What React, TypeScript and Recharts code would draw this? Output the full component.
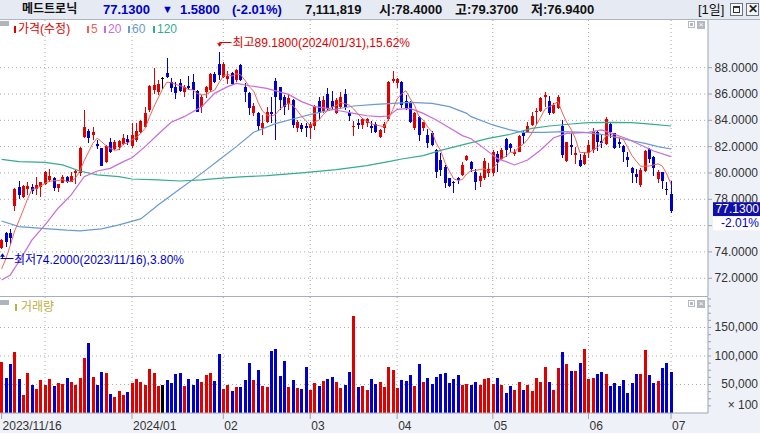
import React from 'react';
import { ComposedChart, Bar, Line, XAxis, YAxis, CartesianGrid, ReferenceDot, ReferenceLine } from 'recharts';

// ---------------- DATA ----------------
const opens = [74.28,75.42,75.42,77.49,78.96,78.2,78.79,78.96,78.79,78.91,79.14,79.47,79.65,78.84,79.22,79.67,79.34,79.97,79.97,82.76,83.19,82.89,82.23,81.87,80.81,82.33,81.82,82.0,82.18,82.56,82.05,82.51,83.09,83.52,84.78,86.3,86.13,87.19,87.57,86.94,86.56,86.81,86.18,86.61,86.89,86.23,85.04,86.18,86.3,87.49,88.28,87.3,87.14,87.57,87.05,88.2,86.56,86.1,84.53,84.53,83.44,83.85,84.6,86.99,86.51,85.8,85.22,85.54,83.44,83.65,83.57,83.39,83.57,85.47,84.71,85.97,85.47,84.53,85.04,85.97,84.58,83.52,83.77,83.65,83.77,83.57,83.72,82.76,83.44,84.1,87.01,86.81,86.94,85.47,85.42,83.44,84.28,83.39,82.89,83.01,81.75,80.99,80.48,79.59,79.34,79.59,79.85,80.99,80.81,80.1,79.39,79.65,80.03,79.97,81.44,81.06,82.56,82.2,81.44,81.62,83.06,83.06,83.65,84.66,84.73,85.8,85.47,84.53,84.91,83.57,80.91,82.13,81.37,80.99,80.68,81.49,81.75,83.09,82.43,82.18,83.72,83.01,82.33,82.05,81.24,80.35,79.92,79.09,80.15,81.82,81.24,79.52,80.05,78.78,78.4];
const highs = [75.0,75.54,75.75,78.84,79.39,79.09,79.34,79.14,79.72,79.34,80.15,80.3,79.72,79.14,79.85,79.77,80.1,80.23,82.0,84.78,83.34,83.52,82.51,81.92,82.13,82.63,82.51,82.51,82.94,82.89,83.77,83.77,84.03,85.04,86.68,88.0,87.06,87.27,88.76,87.19,86.94,87.14,86.68,87.39,87.49,86.3,85.92,86.63,87.57,87.65,89.18,88.4,87.75,87.65,87.9,88.28,86.81,86.18,85.29,84.66,84.41,85.01,85.8,87.24,86.56,85.92,85.97,85.62,84.03,83.82,83.77,83.85,85.16,85.8,85.87,86.43,86.23,85.67,86.13,86.35,84.78,83.95,84.08,84.15,84.2,83.95,83.85,83.34,83.85,86.99,87.75,87.24,87.0,85.92,85.48,84.66,84.35,83.9,83.34,83.19,81.82,81.49,80.61,79.65,79.4,79.67,80.86,81.37,80.91,80.3,79.97,81.11,80.73,81.75,81.67,81.87,82.63,82.3,81.82,82.89,83.19,83.9,84.66,84.91,85.8,86.18,85.87,85.29,85.92,84.03,82.38,83.01,81.95,81.42,81.57,82.51,83.39,83.19,82.94,84.28,83.9,83.06,82.68,82.13,81.62,80.48,80.3,80.35,81.75,81.87,81.29,80.23,80.1,79.34,79.37];
const lows = [74.2,74.41,74.53,77.14,78.0,78.13,78.33,78.41,78.33,78.2,79.09,79.34,78.66,78.53,79.22,79.22,79.34,79.14,79.8,82.68,82.3,82.51,81.8,80.5,80.73,81.5,81.75,81.75,82.15,82.13,81.92,82.38,83.01,83.39,84.66,85.97,85.92,86.38,87.19,86.18,85.62,86.18,85.75,86.3,85.62,84.6,84.58,85.67,86.18,86.81,87.06,87.2,86.73,86.68,86.94,86.99,85.37,84.41,84.35,83.19,82.89,83.77,83.77,82.51,84.78,84.41,84.78,83.39,83.14,83.14,82.76,82.58,83.27,84.03,84.53,84.78,84.78,84.46,84.86,84.78,83.95,82.84,83.32,83.34,83.52,83.06,83.01,82.68,83.01,83.95,86.81,86.43,84.91,84.78,83.77,83.27,82.46,83.19,81.87,82.08,79.59,79.8,78.84,78.96,78.46,79.14,79.8,80.91,80.1,78.71,78.96,79.47,79.72,79.8,80.05,80.99,81.24,81.62,81.32,81.57,82.18,83.01,83.59,83.65,84.66,85.04,84.41,84.48,84.86,81.16,80.86,81.37,80.68,80.48,80.61,81.11,81.49,81.67,81.87,82.13,82.63,81.82,81.87,80.86,80.48,79.27,79.22,78.96,80.1,80.73,79.77,79.22,78.76,78.33,76.94];
const closes = [74.91,74.78,75.09,78.76,78.33,79.04,79.01,78.66,79.09,79.29,80.05,79.77,78.84,79.14,79.72,79.29,79.77,80.15,81.92,83.52,82.63,83.09,82.08,80.56,82.05,81.57,82.33,82.43,82.68,82.33,82.89,83.19,83.95,84.53,86.63,86.68,86.73,87.19,87.27,86.43,86.05,86.25,86.56,86.43,86.3,84.66,85.8,86.56,87.49,86.94,87.44,88.3,87.39,86.73,87.8,87.06,86.18,84.96,85.09,83.57,83.77,84.66,84.45,85.8,85.54,85.04,85.67,83.65,83.85,83.34,83.39,83.7,85.09,84.53,85.54,84.91,85.04,85.54,85.8,85.04,84.35,83.57,83.65,84.08,84.08,83.39,83.09,83.27,83.72,86.94,87.11,87.14,85.16,84.91,83.9,84.58,82.89,83.85,82.25,82.13,80.1,80.23,79.22,79.01,79.22,79.47,80.61,81.32,80.3,79.29,79.77,80.91,80.3,81.62,80.86,81.75,81.75,81.87,81.62,82.81,82.84,83.57,84.33,84.71,85.72,85.92,84.53,85.16,85.8,81.37,82.33,82.0,81.54,80.56,81.37,82.13,83.19,82.33,82.3,84.1,83.09,81.87,82.18,81.62,80.99,79.97,79.72,80.23,81.67,81.04,80.41,80.1,79.39,78.71,77.13];
// volume in units of 100 shares
const volumes = [89500,61700,85600,107300,59400,31300,69900,48800,41800,57600,48800,59400,47000,52300,50500,61100,54000,48800,61100,96200,122500,62900,48800,71600,69900,33000,27700,38300,31300,36500,52300,59400,54000,48800,76900,69900,47000,48800,57600,52300,68100,69900,47000,59400,48800,59400,54000,66400,69900,55800,103200,41800,48800,38300,45300,45300,57600,87400,57600,75100,47000,45300,108400,111900,64600,90900,45300,57600,43500,41800,80400,40000,52300,47000,55800,59400,62900,54000,43500,48800,71600,169800,45300,47000,40000,59400,50500,54000,45300,80400,75100,43500,57600,55800,66400,47000,85600,54000,61100,50500,62900,68100,69900,52300,59400,66400,48800,50500,48800,54000,48800,59400,61100,50500,61100,48800,34700,47000,40000,54000,40000,48800,38300,61100,54000,80400,54000,40000,78600,106700,85600,73400,73400,87400,111900,59400,61100,68100,71600,68100,47000,52300,47000,57600,34700,52300,68100,68100,110200,66400,52300,55800,78600,87400,71100];

// moving averages (sparse points)
const ma5Lead = [72.7, 73.5, 74.5, 75.6];
const ma20Idx = [0,2,4,7,10,13,16,19,22,25,28,30,33,36,39,42,46,49,52,54,57,61,66,69,72,75,78,81,84,87,89,91,94,97,100,103,106,108,111,114,118,121,124,127,130,135,138,141,144,147,150,154];
const ma20Val = [71.87,72.25,73.27,74.91,76.05,77.32,78.33,79.72,80.15,80.35,80.86,81.16,82.0,82.94,83.85,84.28,85.04,86.05,86.56,86.81,86.63,86.43,85.97,85.42,85.04,84.91,84.71,84.53,84.35,84.28,84.33,84.84,84.91,84.53,84.03,83.44,82.84,82.6,81.87,81.11,80.61,80.99,81.75,82.68,83.01,83.09,83.27,82.94,82.58,82.13,81.67,81.24];
const ma60Idx = [0,4,10,15,18,23,27,32,36,41,46,50,54,58,63,67,72,77,81,86,89,94,99,103,107,108,113,117,120,125,129,134,138,143,148,151,154];
const ma60Val = [76.35,75.92,75.77,75.65,75.6,75.75,76.05,76.51,77.57,78.78,79.97,80.99,82.0,83.09,83.75,84.1,84.53,84.86,85.09,85.22,85.27,85.37,85.29,85.04,84.53,84.28,83.65,83.27,83.09,83.09,83.14,83.09,82.94,82.58,82.25,82.0,81.82];
const ma120Idx = [0,4,10,14,18,22,27,30,36,41,46,50,55,61,69,77,84,89,92,97,101,106,109,112,117,122,126,131,135,140,145,150,154];
const ma120Val = [81.04,80.86,80.8,80.61,80.15,79.85,79.72,79.54,79.47,79.39,79.47,79.59,79.7,79.8,80.0,80.25,80.56,80.86,81.06,81.32,81.72,82.13,82.38,82.63,82.94,83.39,83.57,83.72,83.82,83.85,83.82,83.7,83.57];

const xTickIdx = [0, 30, 51, 71, 91, 113, 135, 154];
const xTickLabels = ['2023/11/16', '2024/01', '02', '03', '04', '05', '06', '07'];
const gridIdx = [10, 30, 51, 71, 91, 113, 135, 154];
const priceTicks = [72, 74, 76, 78, 80, 82, 84, 86, 88];
const volLabelTicks = [50000, 100000, 150000];
const volMinorTicks = [12500,25000,37500,50000,62500,75000,87500,100000,112500,125000,137500,150000,162500,175000,187500,200000];

const maxPoint = { i: 50, v: 89.18, text: '최고89.1800(2024/01/31),15.62%' };
const minPoint = { i: 0, v: 74.2, text: '최저74.2000(2023/11/16),3.80%' };
const last = { price: 77.13, pct: '-2.01%' };

// ---------------- STYLE ----------------
const FF = '"Liberation Sans", "Noto Sans CJK KR", Arial, sans-serif';
const RED = '#E00000';
const BLUE = '#0000CD';
const DOJI = '#000000';
const C_MA5 = '#EE6358';
const C_MA20 = '#C86CD8';
const C_MA60 = '#6A9AD0';
const C_MA120 = '#34AC8E';
const GRID = '#A8A8A8';
const PANEL_BG = '#EEF1F7';
const BORDER = '#9CA3B0';
const X_DOMAIN: [number, number] = [-0.368, 162.5];
const P_DOMAIN: [number, number] = [70.65, 91.625];

const sparse = (idx: number[], val: number[]) => {
  const m: Record<number, number> = {};
  idx.forEach((k, j) => { m[k] = val[j]; });
  return m;
};
const ma20Map = sparse(ma20Idx, ma20Val);
const ma60Map = sparse(ma60Idx, ma60Val);
const ma120Map = sparse(ma120Idx, ma120Val);

const data = opens.map((o, i) => {
  let ma5: number;
  if (i < 4) ma5 = ma5Lead[i];
  else ma5 = (closes[i] + closes[i - 1] + closes[i - 2] + closes[i - 3] + closes[i - 4]) / 5;
  return {
    i,
    o,
    h: highs[i],
    l: lows[i],
    c: closes[i],
    range: [lows[i], highs[i]],
    vol: volumes[i],
    ma5,
    ma20: ma20Map[i] ?? null,
    ma60: ma60Map[i] ?? null,
    ma120: ma120Map[i] ?? null,
  };
});

const candleColor = (o: number, c: number) => (c > o ? RED : c < o ? BLUE : DOJI);

const CandleShape = (props: any) => {
  const { x, y, width, height, payload } = props;
  if (x == null || y == null || !payload) return null;
  const top = Math.min(y, y + height);
  const bot = Math.max(y, y + height);
  const span = payload.h - payload.l;
  const k = span > 0 ? (bot - top) / span : 0;
  const yO = top + (payload.h - payload.o) * k;
  const yC = top + (payload.h - payload.c) * k;
  const col = candleColor(payload.o, payload.c);
  const cx = Math.round(x + width / 2);
  const bTop = Math.min(yO, yC);
  const bH = Math.max(1, Math.abs(yO - yC));
  return (
    <g shapeRendering="crispEdges">
      <rect x={cx} y={top} width={1} height={Math.max(1, bot - top)} fill={col} />
      <rect x={cx - 1} y={bTop} width={3} height={bH} fill={col} />
    </g>
  );
};

const VolShape = (props: any) => {
  const { x, y, width, height, payload } = props;
  if (x == null || y == null || !payload) return null;
  const cx = Math.round(x + width / 2);
  const top = Math.min(y, y + height);
  return <rect x={cx - 1} y={top} width={3} height={Math.abs(height)} fill={candleColor(payload.o, payload.c)} shapeRendering="crispEdges" />;
};

const PriceTick = (props: any) => {
  const { x, y, payload } = props;
  return (
    <text x={x + 42} y={y} dy={4} textAnchor="end" fontSize={12} fill="#333" fontFamily={FF}>
      {Number(payload.value).toFixed(4)}
    </text>
  );
};

const VolTick = (props: any) => {
  const { x, y, payload } = props;
  if (!volLabelTicks.includes(payload.value)) return <g />;
  return (
    <text x={x + 42} y={y} dy={4} textAnchor="end" fontSize={12} fill="#333" fontFamily={FF}>
      {Number(payload.value).toLocaleString('en-US')}
    </text>
  );
};

const DateTick = (props: any) => {
  const { x, y, payload } = props;
  const j = xTickIdx.indexOf(payload.value);
  return (
    <text x={x + 1} y={y} dy={9} textAnchor="start" fontSize={12} fill="#333" fontFamily={FF}>
      {j >= 0 ? xTickLabels[j] : ''}
    </text>
  );
};

const MaxMark = (props: any) => {
  const vb = props.viewBox || {};
  const cx = (vb.x ?? 0) + (vb.width ?? 0) / 2;
  const cy = (vb.y ?? 0) + (vb.height ?? 0) / 2;
  const px = Math.round(cx) + 0.5;
  const ly = Math.round(cy - 10) + 0.5;
  return (
    <g>
      <line x1={px} y1={ly} x2={px + 12} y2={ly} stroke={RED} strokeWidth={1} />
      <line x1={px} y1={ly} x2={px} y2={cy - 7} stroke={RED} strokeWidth={1} />
      <path d={`M${px - 2.5},${cy - 9} L${px + 2.5},${cy - 9} L${px},${cy - 5.5} Z`} fill={RED} />
      <text x={px + 13} y={cy - 10} dy={4.5} fontSize={12} fill={RED} fontFamily={FF}>{maxPoint.text}</text>
    </g>
  );
};

const MinMark = (props: any) => {
  const vb = props.viewBox || {};
  const cx = (vb.x ?? 0) + (vb.width ?? 0) / 2;
  const cy = (vb.y ?? 0) + (vb.height ?? 0) / 2;
  const px = Math.round(cx) + 0.5;
  const ly = Math.round(cy + 9) + 0.5;
  return (
    <g>
      <line x1={px - 2} y1={ly} x2={px + 11} y2={ly} stroke={BLUE} strokeWidth={1} />
      <line x1={px} y1={ly} x2={px} y2={cy + 6} stroke={BLUE} strokeWidth={1} />
      <path d={`M${px - 2.5},${cy + 7.5} L${px + 2.5},${cy + 7.5} L${px},${cy + 4} Z`} fill={BLUE} />
      <text x={px + 11.5} y={cy + 10} dy={4.5} fontSize={12} fill={BLUE} fontFamily={FF}>{minPoint.text}</text>
    </g>
  );
};

const PriceBox = (props: any) => {
  const vb = props.viewBox || {};
  const x = (vb.x ?? 0) + (vb.width ?? 0) + 5;
  const y = vb.y ?? 0;
  return (
    <g>
      <rect x={x} y={y - 8.5} width={48} height={14} fill="#1010A8" />
      <text x={x + 46} y={y - 1.5} dy={4} textAnchor="end" fontSize={12} fill="#fff" fontFamily={FF}>{last.price.toFixed(4)}</text>
      <rect x={x} y={y + 5.5} width={48} height={14} fill="#fff" />
      <text x={x + 46} y={y + 12.5} dy={4} textAnchor="end" fontSize={12} fill={BLUE} fontFamily={FF}>{last.pct}</text>
    </g>
  );
};

const abs = (l: number, t: number, extra: any = {}) => ({ position: 'absolute' as const, left: l, top: t, whiteSpace: 'nowrap' as const, ...extra });

const SmallIcons = ({ top }: { top: number }) => (
  <>
    <div style={abs(688, top, { width: 7, height: 7, border: '1px solid #B4B8C0', boxSizing: 'border-box', background: '#fff' })}>
      <div style={{ margin: '1px', height: 3, background: '#B4B8C0' }} />
    </div>
    <div style={abs(697, top, { width: 8, height: 8, background: '#B4B8C0', color: '#fff', fontSize: 8, lineHeight: '8px', textAlign: 'center', fontFamily: FF })}>×</div>
  </>
);

export default function App() {
  const legendItem = (x: number, color: string, label: string) => (
    <>
      <div style={abs(x, 26, { width: 2, height: 7, background: color })} />
      <div style={abs(x + 4, 22, { color, fontSize: 12, lineHeight: '15px', fontFamily: FF })}>{label}</div>
    </>
  );
  return (
    <div style={{ position: 'fixed', left: 0, top: 0, width: 760, height: 433, background: '#fff', overflow: 'hidden', fontFamily: FF }}>
      {/* backgrounds */}
      <div style={abs(708, 20, { width: 52, height: 393, background: PANEL_BG })} />
      <div style={abs(0, 413, { width: 760, height: 20, background: PANEL_BG })} />
      <div style={abs(0, 296, { width: 708, height: 1, background: '#A8AEB8' })} />

      {/* header */}
      <div style={abs(0, 0, { width: 760, height: 19, background: '#E6EAF2', borderBottom: '1px solid #AEB5C2', fontWeight: 'bold', fontSize: 13, lineHeight: '19px' })}>
        <span style={abs(22, 0, { fontSize: 12, color: '#111' })}>메드트로닉</span>
        <span style={abs(103, 0, { color: '#0000C8' })}>77.1300</span>
        <span style={abs(162, 0, { color: '#0000C8', fontSize: 11 })}>▼</span>
        <span style={abs(180, 0, { color: '#0000C8' })}>1.5800</span>
        <span style={abs(232, 0, { color: '#0000C8' })}>(-2.01%)</span>
        <span style={abs(305, 0, { color: '#111' })}>7,111,819</span>
        <span style={abs(379, 0, { color: '#111' })}>시:78.4000</span>
        <span style={abs(455, 0, { color: '#111' })}>고:79.3700</span>
        <span style={abs(531, 0, { color: '#111' })}>저:76.9400</span>
        <span style={abs(698, 0, { color: '#111', fontWeight: 'normal' })}>[1일]</span>
        <div style={abs(730, 3, { width: 13, height: 13, border: '1px solid #6C7484', boxSizing: 'border-box', background: '#F4F6FA' })}>
          <div style={{ position: 'absolute', left: 2, top: 2, width: 7, height: 7, border: '1px solid #333', borderTopWidth: 2, boxSizing: 'border-box' }} />
        </div>
        <div style={abs(746, 3, { width: 13, height: 13, border: '1px solid #6C7484', boxSizing: 'border-box', background: '#F4F6FA', fontSize: 12, lineHeight: '11px', textAlign: 'center', color: '#222' })}>✕</div>
      </div>

      {/* price chart */}
      <div style={abs(0, 20)}>
        <ComposedChart width={760} height={276} data={data} margin={{ top: 0, right: 0, bottom: 0, left: 0 }}>
          <CartesianGrid stroke={GRID} strokeDasharray="1 3" horizontalValues={priceTicks} verticalValues={gridIdx} />
          <XAxis type="number" dataKey="i" domain={X_DOMAIN} allowDataOverflow hide />
          <YAxis orientation="right" width={52} domain={P_DOMAIN} allowDataOverflow ticks={priceTicks} interval={0}
            tick={<PriceTick />} tickSize={4} tickMargin={4} stroke={BORDER} />
          <Bar dataKey="range" shape={<CandleShape />} isAnimationActive={false} />
          <Line type="linear" dataKey="ma120" stroke={C_MA120} strokeWidth={1.2} dot={false} activeDot={false} connectNulls isAnimationActive={false} />
          <Line type="linear" dataKey="ma60" stroke={C_MA60} strokeWidth={1.2} dot={false} activeDot={false} connectNulls isAnimationActive={false} />
          <Line type="linear" dataKey="ma20" stroke={C_MA20} strokeWidth={1.2} dot={false} activeDot={false} connectNulls isAnimationActive={false} />
          <Line type="linear" dataKey="ma5" stroke={C_MA5} strokeWidth={1} dot={false} activeDot={false} connectNulls isAnimationActive={false} />
          <ReferenceDot x={maxPoint.i} y={maxPoint.v} r={0} fill="none" stroke="none" ifOverflow="visible" label={(p: any) => <MaxMark {...p} />} />
          <ReferenceDot x={minPoint.i} y={minPoint.v} r={0} fill="none" stroke="none" ifOverflow="visible" label={(p: any) => <MinMark {...p} />} />
        </ComposedChart>
      </div>

      {/* current price marker, overlaid above the axis labels with the same scales */}
      <div style={abs(0, 20)}>
        <ComposedChart width={760} height={276} data={data} margin={{ top: 0, right: 0, bottom: 0, left: 0 }}>
          <XAxis type="number" dataKey="i" domain={X_DOMAIN} allowDataOverflow hide />
          <YAxis orientation="right" width={52} domain={P_DOMAIN} allowDataOverflow tick={false} tickLine={false} axisLine={false} />
          <ReferenceLine y={last.price} stroke="none" ifOverflow="visible" label={(p: any) => <PriceBox {...p} />} />
        </ComposedChart>
      </div>

      {/* volume chart */}
      <div style={abs(0, 297)}>
        <ComposedChart width={760} height={136} data={data} margin={{ top: 0, right: 0, bottom: 0, left: 0 }}>
          <CartesianGrid stroke={GRID} strokeDasharray="1 3" horizontalValues={volLabelTicks} verticalValues={gridIdx} />
          <XAxis type="number" dataKey="i" domain={X_DOMAIN} allowDataOverflow ticks={xTickIdx} interval={0} height={20}
            tick={<DateTick />} tickSize={6} stroke={BORDER} />
          <YAxis orientation="right" width={52} domain={[0, 203500]} allowDataOverflow ticks={volMinorTicks} interval={0}
            tick={<VolTick />} tickSize={3} tickMargin={5} stroke={BORDER} />
          <Bar dataKey="vol" shape={<VolShape />} isAnimationActive={false} />
        </ComposedChart>
      </div>

      {/* legends & small decorations */}
      <div style={abs(0, 21, { width: 9, height: 5, background: '#B0B4BC' })} />
      {legendItem(14, RED, '가격(수정)')}
      {legendItem(87, C_MA5, '5')}
      {legendItem(104, C_MA20, '20')}
      {legendItem(128, C_MA60, '60')}
      {legendItem(153, C_MA120, '120')}
      <SmallIcons top={21} />

      <div style={abs(0, 300, { width: 9, height: 5, background: '#B0B4BC' })} />
      <div style={abs(15, 304, { width: 2, height: 7, background: '#BEB040' })} />
      <div style={abs(21, 300, { color: '#BEB040', fontSize: 12, lineHeight: '15px' })}>거래량</div>
      <SmallIcons top={300} />

      <div style={abs(716, 398, { width: 42, textAlign: 'right', fontSize: 12, lineHeight: '14px', color: '#333' })}>× 100</div>
    </div>
  );
}
